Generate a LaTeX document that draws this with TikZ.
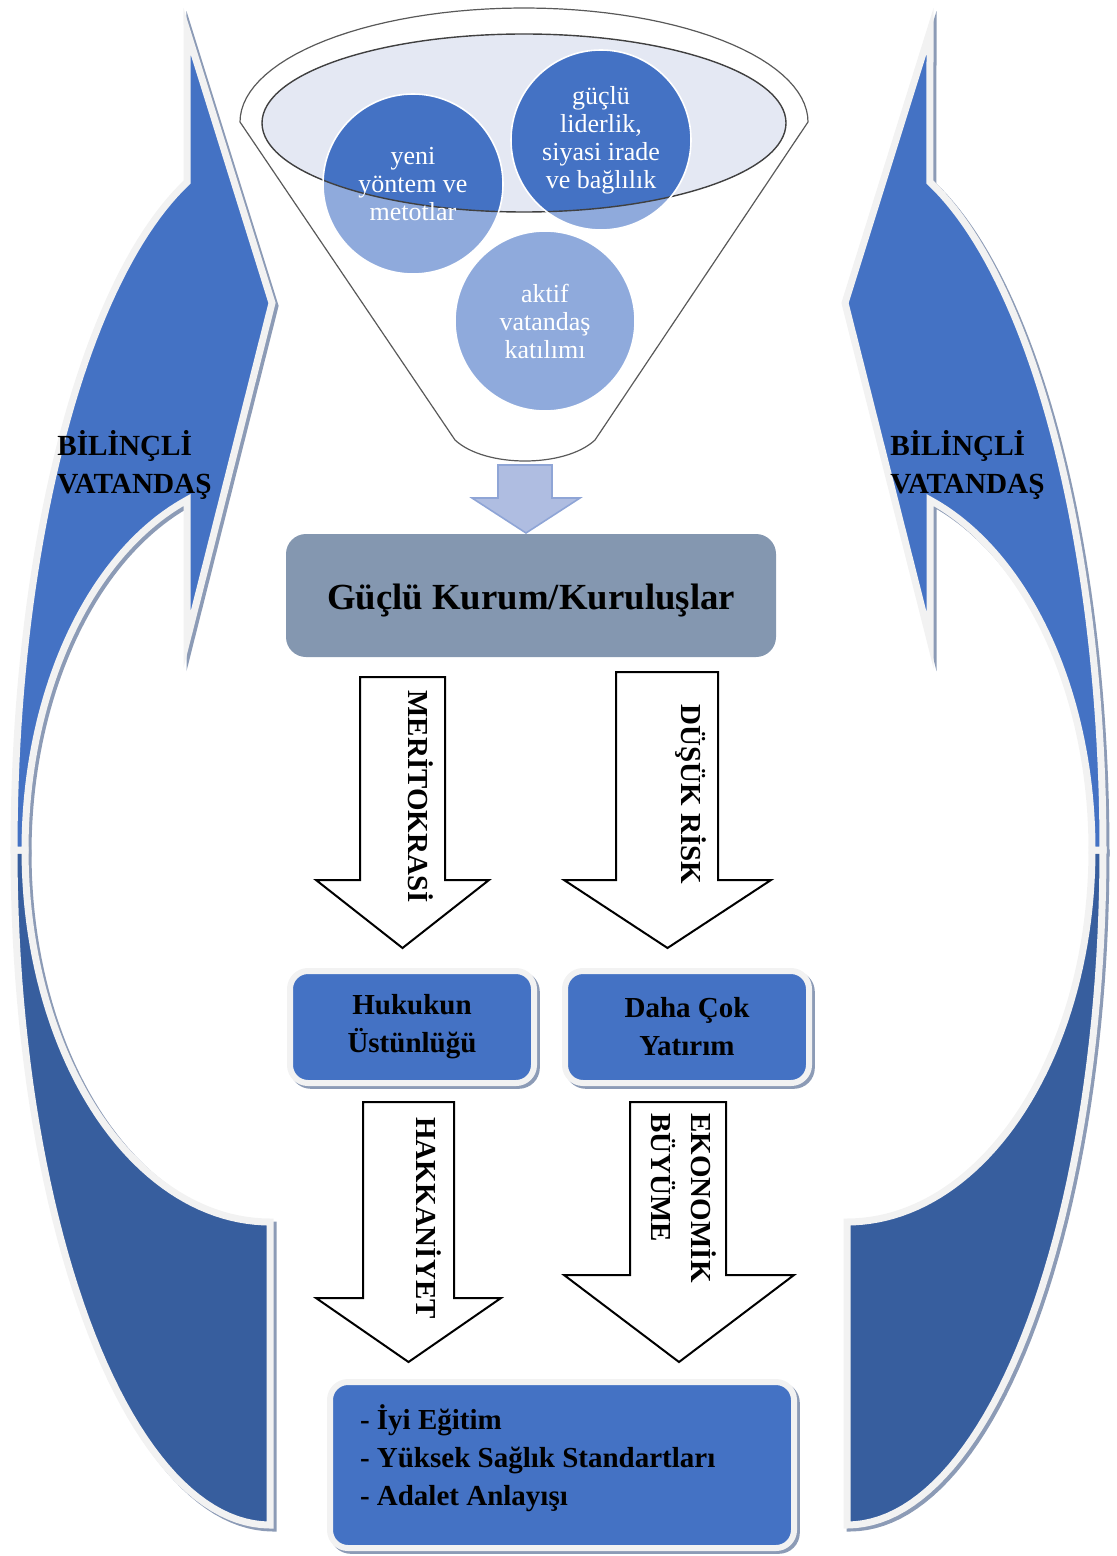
\documentclass[tikz,border=0pt]{standalone}
\usepackage{fontspec}
\setmainfont{Liberation Serif}
\definecolor{accblue}{RGB}{68,114,196}
\definecolor{darkblue}{RGB}{55,94,158}
\definecolor{lightblue}{RGB}{143,170,220}
\definecolor{rimfill}{RGB}{228,232,243}
\definecolor{rimline}{RGB}{64,64,64}
\definecolor{bordergray}{RGB}{242,242,242}
\definecolor{shadowgray}{RGB}{140,155,182}
\definecolor{boxgray}{RGB}{132,151,176}
\definecolor{pipefill}{RGB}{175,189,225}
\definecolor{pipeline}{RGB}{143,165,214}
\newcommand\band[2]{%
  \draw[#1] plot[domain=90:180,samples=50] ({270+256*cos(\x)},{850+675*sin(\x)})
    -- plot[domain=180:90,samples=50] ({270+245*cos(\x)},{850+372*sin(\x)}) -- cycle;
  \draw[#2] (187,31) -- (272,303) -- (187,640)
    -- plot[domain=109.8:180,samples=50] ({270+245*cos(\x)},{850-372*sin(\x)})
    -- plot[domain=180:108.9,samples=50] ({270+256*cos(\x)},{850-706*sin(\x)}) -- cycle;}
\begin{document}
\begin{tikzpicture}[x=0.5pt,y=-0.5pt,
  front/.style={fill=accblue,draw=bordergray,line width=3.5pt},
  back/.style={fill=darkblue,draw=bordergray,line width=3.5pt},
  shade/.style={fill=shadowgray,draw=shadowgray,line width=3.5pt},
  citizen/.style={anchor=base west,inner sep=0pt,font=\bfseries\fontsize{14.6}{17}\selectfont},
  bubble/.style={circle,draw=white,line width=0.8pt,minimum size=90pt,inner sep=0pt,text=white,align=center,font=\fontsize{13}{14}\selectfont},
  bluebox/.style={rounded corners=9pt,fill=accblue,draw=bordergray,line width=3pt,inner sep=0pt,align=center,
    font=\bfseries\fontsize{14.5}{19}\selectfont,
    preaction={fill=shadowgray,draw=shadowgray,line width=3pt,transform canvas={shift={(1.4pt,-1.4pt)}}}},
  bigarrow/.style={draw=black,fill=white,line width=1pt},
  arrowlbl/.style={rotate=-90,anchor=base west,inner sep=0pt,font=\bfseries\fontsize{14.5}{19}\selectfont}]
\useasboundingbox (0,0) rectangle (1117,1556);
\foreach \s in {1,-1}{
  \begin{scope}[shift={(558.5,0)},xscale=\s,shift={(-558.5,0)}]
    \begin{scope}[shift={(3*\s,3)}]
      \band{shade}{shade}
    \end{scope}
    \band{back}{front}
  \end{scope}
}
\node[citizen] (bil1) at (57,455) {BİLİNÇLİ};
\node[citizen] (vat1) at (57,493) {VATANDAŞ};
\node[citizen] (bil2) at (890,455) {BİLİNÇLİ};
\node[citizen] (vat2) at (890,493) {VATANDAŞ};
\draw[gray!70!black,line width=0.6pt] plot[domain=180:0,samples=60] ({524+284*cos(\x)},{122-114*sin(\x)})
  -- (595,440) .. controls (565,468) and (485,468) .. (455,440) -- cycle;
\fill[rimfill] (524,123) ellipse[x radius=131pt,y radius=44.5pt];
\fill[lightblue] (413,184) circle[radius=45pt] (601,140) circle[radius=45pt] (545,321) circle[radius=45pt];
\begin{scope}
  \clip (524,123) ellipse[x radius=131pt,y radius=44.5pt];
  \fill[accblue] (413,184) circle[radius=45pt] (601,140) circle[radius=45pt];
\end{scope}
\draw[rimline,line width=0.7pt] (524,123) ellipse[x radius=131pt,y radius=44.5pt];
\node[bubble] (yontem) at (413,184) {yeni\\yöntem ve\\metotlar};
\node[bubble] (lider) at (601,140) {güçlü\\liderlik,\\siyasi irade\\ve bağlılık};
\node[bubble] (katilim) at (545,321) {aktif\\vatandaş\\katılımı};
\draw[fill=pipefill,draw=pipeline,line width=0.8pt] (498,465) -- (552,465) -- (552,498) -- (580,498) -- (526,533) -- (472,498) -- (498,498) -- cycle;
\node[fill=boxgray,rounded corners=10pt,minimum width=245pt,minimum height=61.5pt,inner sep=0pt,
  font=\bfseries\fontsize{18.4}{22}\selectfont] (kurum) at (531,595.5) {\raisebox{-2.5pt}[\height][\depth]{Güçlü Kurum/Kuruluşlar}};
\foreach \xl/\xr/\yt/\yn/\hl/\hr/\yb in {360/445/677/880/316/489/948,616/718/672/880/564/771/948,
  363/454/1102/1298/316/501/1362,630/726/1102/1275/564/794/1362}
  \draw[bigarrow] (\xl,\yt) -- (\xr,\yt) -- (\xr,\yn) -- (\hr,\yn) -- ({(\hl+\hr)/2},\yb) -- (\hl,\yn) -- (\xl,\yn) -- cycle;
\node[arrowlbl] (merit) at (408,690) {MERİTOKRASİ};
\node[arrowlbl] (risk) at (681,704) {DÜŞÜK RİSK};
\node[arrowlbl] (hak) at (416,1117) {HAKKANİYET};
\node[arrowlbl] (eko) at (691,1113) {EKONOMİK};
\node[arrowlbl] (buyume) at (651,1113) {BÜYÜME};
\node[bluebox,minimum width=122pt,minimum height=56pt] (hukuk) at (412,1027) {Hukukun\\Üstünlüğü};
\node[bluebox,minimum width=122pt,minimum height=56pt] (yatirim) at (687,1027) {Daha Çok\\Yatırım};
\node[bluebox,minimum width=232pt,minimum height=83pt] (sonuc) at (562,1465)
  {\raisebox{3.5pt}[\height][\depth]{\parbox{202pt}{\raggedright - İyi Eğitim\\- Yüksek Sağlık Standartları\\- Adalet Anlayışı}}};
\end{tikzpicture}
\end{document}
